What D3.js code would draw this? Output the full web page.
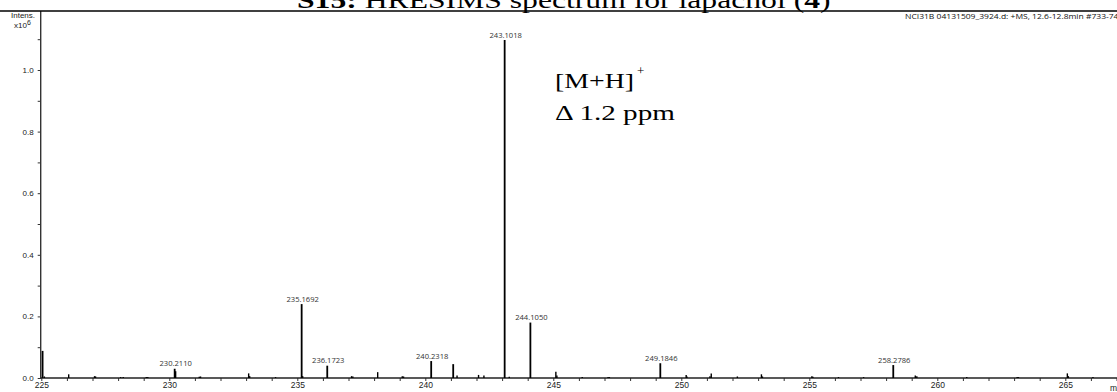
<!DOCTYPE html>
<html><head><meta charset="utf-8">
<script src="https://cdn.jsdelivr.net/npm/d3@7"></script>
<style>body{margin:0;background:#fff;overflow:hidden}svg{display:block}</style>
</head><body>
<script>
// ---- data (intensity in units of 1e6) ----
const peakMz = [225.05, 225.12, 226.07, 227.08, 227.12, 228.10, 228.20, 229.10, 229.16, 230.21, 230.24, 231.17, 231.22, 233.10, 233.14, 234.15, 235.17, 235.21, 236.17, 237.12, 237.17, 238.14, 239.10, 239.15, 240.23, 241.09, 241.24, 242.08, 242.29, 243.10, 243.28, 244.105, 245.10, 245.14, 246.13, 247.14, 247.19, 249.18, 250.19, 250.22, 251.12, 251.17, 252.19, 253.13, 253.17, 255.10, 255.14, 256.14, 257.12, 258.28, 259.14, 259.20, 261.15, 263.12, 263.17, 265.08, 265.12, 266.08];
const intensity = [0.088, 0.005, 0.012, 0.006, 0.005, 0.003, 0.003, 0.003, 0.003, 0.030, 0.022, 0.004, 0.005, 0.015, 0.006, 0.003, 0.240, 0.006, 0.040, 0.006, 0.005, 0.019, 0.006, 0.005, 0.055, 0.045, 0.008, 0.010, 0.008, 1.097, 0.004, 0.180, 0.020, 0.008, 0.003, 0.003, 0.003, 0.048, 0.010, 0.005, 0.006, 0.015, 0.005, 0.012, 0.005, 0.006, 0.004, 0.003, 0.003, 0.042, 0.008, 0.006, 0.003, 0.003, 0.003, 0.015, 0.006, 0.003];
const labelMz = [230.21, 235.17, 236.17, 240.23, 243.10, 244.105, 249.18, 258.28];
const labelText = ["230.2110", "235.1692", "236.1723", "240.2318", "243.1018", "244.1050", "249.1846", "258.2786"];
const xTickValues = [225, 230, 235, 240, 245, 250, 255, 260, 265];
const yTickValues = [0.0, 0.2, 0.4, 0.6, 0.8, 1.0];

const W = 1117, H = 392;
const svg = d3.select("body").append("svg").attr("width", W).attr("height", H);

const x = d3.scaleLinear().domain([225, 265]).range([41.3, 1065.3]);
const y = d3.scaleLinear().domain([0, 1]).range([378, 70]);

// minor ticks
const xMinor = d3.range(225, 268, 1);
const yMinor = d3.range(0, 12).map(i => i / 10);

// x axis
const gx = svg.append("g").attr("transform", "translate(0,378)")
  .call(d3.axisBottom(x).tickValues(xMinor).tickSize(3).tickPadding(1)
    .tickFormat(d => xTickValues.includes(d) ? String(d) : ""));
gx.select(".domain").remove();
gx.selectAll(".tick line").attr("stroke", "#333").attr("stroke-width", 1);
gx.selectAll(".tick text").attr("font-family", "Liberation Sans, Arial, sans-serif").attr("font-size", 8.5).attr("fill", "#222");

// y axis
const gy = svg.append("g").attr("transform", "translate(40.7,0)")
  .call(d3.axisLeft(y).tickValues(yMinor).tickSize(3).tickPadding(4)
    .tickFormat(d => yTickValues.some(v => Math.abs(v - d) < 1e-9) ? d3.format(".1f")(d) : ""));
gy.select(".domain").remove();
gy.selectAll(".tick line").attr("stroke", "#333").attr("stroke-width", 1);
gy.selectAll(".tick text").attr("font-family", "Liberation Sans, Arial, sans-serif").attr("font-size", 8).attr("fill", "#222");

// frame lines
svg.append("line").attr("x1", 40.7).attr("x2", W).attr("y1", 378).attr("y2", 378).attr("stroke", "#222").attr("stroke-width", 1.3);
svg.append("line").attr("x1", 40.7).attr("x2", 40.7).attr("y1", 11).attr("y2", 379).attr("stroke", "#333").attr("stroke-width", 1.4);
svg.append("line").attr("x1", 0).attr("x2", W).attr("y1", 11).attr("y2", 11).attr("stroke", "#000").attr("stroke-width", 1.4);

// peaks
svg.append("g").selectAll("line").data(peakMz).join("line")
  .attr("x1", d => x(d)).attr("x2", d => x(d))
  .attr("y1", y(0)).attr("y2", (d, i) => y(intensity[i]))
  .attr("stroke", "#000")
  .attr("stroke-width", (d, i) => intensity[i] > 0.02 ? 1.8 : 1.4);

// peak labels
svg.append("g").selectAll("text").data(labelMz).join("text")
  .attr("x", d => x(d) + 1)
  .attr("y", d => y(intensity[peakMz.indexOf(d)]) - 2.5)
  .attr("text-anchor", "middle")
  .attr("font-family", "Open Sans, sans-serif").attr("font-size", 7.6).attr("fill", "#333")
  .text((d, i) => labelText[i]);

// helper: scale text horizontally to target width
function fit(sel, x0, y0, target) {
  const w = sel.node().getComputedTextLength();
  sel.attr("x", 0).attr("y", 0).attr("transform", `translate(${x0},${y0}) scale(${target / w},1)`);
}

// title
const title = svg.append("text").attr("font-family", "Liberation Serif, Times New Roman, serif").attr("font-size", 23).attr("fill", "#000");
title.append("tspan").attr("font-weight", "bold").text("S15:");
title.append("tspan").text(" HRESIMS spectrum for lapachol (");
title.append("tspan").attr("font-weight", "bold").text("4");
title.append("tspan").text(")");
fit(title, 297, 7.5, 534);

// y axis caption
svg.append("text").attr("x", 11).attr("y", 18).attr("font-family", "Liberation Sans, Arial, sans-serif").attr("font-size", 8).attr("fill", "#222").text("Intens.");
const cap = svg.append("text").attr("x", 14).attr("y", 28).attr("font-family", "Liberation Sans, Arial, sans-serif").attr("font-size", 8).attr("fill", "#222");
cap.append("tspan").text("x10");
cap.append("tspan").attr("dy", -3).attr("font-size", 7).text("6");

// m/z
svg.append("text").attr("x", 1110).attr("y", 391).attr("font-family", "Liberation Sans, Arial, sans-serif").attr("font-size", 8.5).attr("fill", "#222").text("m/z");

// info line
const info = svg.append("text").attr("font-family", "Open Sans, sans-serif").attr("font-size", 7).attr("fill", "#111")
  .text("NCI31B 04131509_3924.d: +MS, 12.6-12.8min #733-74");
fit(info, 905, 18.5, 214);

// annotation
const ann1 = svg.append("text").attr("font-family", "Liberation Serif, Times New Roman, serif").attr("font-size", 21).attr("fill", "#000");
ann1.append("tspan").text("[M+H]");
fit(ann1, 555, 88, 79);
svg.append("text").attr("x", 637).attr("y", 75).attr("font-family", "Liberation Serif, Times New Roman, serif").attr("font-size", 13).text("+");
const ann2 = svg.append("text").attr("font-family", "Liberation Serif, Times New Roman, serif").attr("font-size", 21).attr("fill", "#000")
  .text("Δ 1.2 ppm");
fit(ann2, 555, 120, 120);
</script>
</body></html>
